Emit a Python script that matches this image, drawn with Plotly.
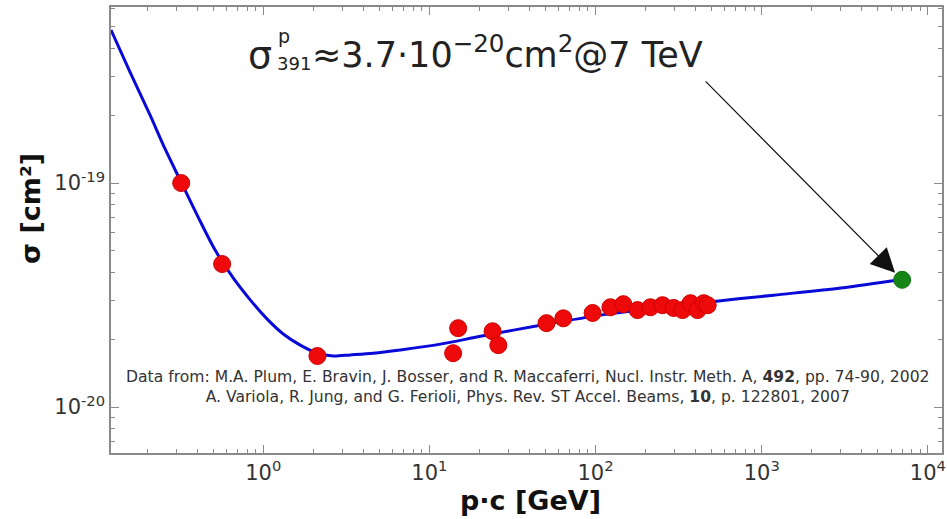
import plotly.graph_objects as go

# ---------------- data ----------------
meas_pc = [0.321, 0.566, 2.12, 13.9, 14.9, 24.0, 26.0, 50.7, 64.0, 96.0,
           123, 147, 179, 214, 253, 295, 334, 373, 411, 448, 473]
meas_sigma = [1.0e-19, 4.35e-20, 1.69e-20, 1.74e-20, 2.25e-20, 2.18e-20, 1.89e-20,
              2.37e-20, 2.49e-20, 2.63e-20,
              2.79e-20, 2.88e-20, 2.71e-20, 2.79e-20, 2.85e-20, 2.77e-20,
              2.71e-20, 2.91e-20, 2.71e-20, 2.91e-20, 2.85e-20]

fit_pc = [0.1214, 0.158, 0.2086, 0.2568, 0.3206, 0.4059, 0.5137, 0.6597, 0.835, 1.057,
          1.32, 1.671, 2.115, 2.641, 3.34, 4.60, 6.69, 11.65, 20.3, 46.6, 118, 473,
          1181, 2990, 7170]
fit_sigma = [4.82e-19, 3.13e-19, 2.01e-19, 1.42e-19, 1.01e-19, 7.05e-20, 5.02e-20, 3.77e-20,
             3.01e-20, 2.47e-20, 2.12e-20, 1.89e-20, 1.74e-20, 1.69e-20, 1.71e-20, 1.74e-20,
             1.80e-20, 1.91e-20, 2.07e-20, 2.32e-20, 2.60e-20, 2.94e-20, 3.16e-20, 3.40e-20,
             3.73e-20]

lhc_pc = [7000]
lhc_sigma = [3.7e-20]

x_tickvals = [1, 10, 100, 1000, 10000]
x_ticktext = ["10<sup>0</sup>", "10<sup>1</sup>", "10<sup>2</sup>", "10<sup>3</sup>", "10<sup>4</sup>"]
y_tickvals = [1e-20, 1e-19]
y_ticktext = ["10<sup>-20</sup>", "10<sup>-19</sup>"]

x_minor = [m * 10.0 ** k for k in range(-1, 4) for m in range(2, 10)]
y_minor = [m * 10.0 ** k for k in (-21, -20, -19) for m in range(2, 10)]

citation = ("Data from: M.A. Plum, E. Bravin, J. Bosser, and R. Maccaferri, Nucl. Instr. Meth. A, "
            "<b>492</b>, pp. 74-90, 2002<br>A. Variola, R. Jung, and G. Ferioli, Phys. Rev. ST Accel. "
            "Beams, <b>10</b>, p. 122801, 2007")

# ---------------- figure ----------------
W, H = 947, 519
L, R, T, B = 111, 5, 7, 66
PW, PH = W - L - R, H - T - B


def px(x):
    return (x - L) / PW


def py(y):
    return (H - B - y) / PH


fig = go.Figure()
fig.add_trace(go.Scatter(x=fit_pc, y=fit_sigma, mode="lines",
                         line=dict(color="#0a0ad8", width=3, shape="spline", smoothing=0.8),
                         hoverinfo="skip", showlegend=False))
fig.add_trace(go.Scatter(x=meas_pc, y=meas_sigma, mode="markers",
                         marker=dict(color="#ee0a0a", size=17, line=dict(color="#d00000", width=1)),
                         showlegend=False))
fig.add_trace(go.Scatter(x=lhc_pc, y=lhc_sigma, mode="markers",
                         marker=dict(color="#158515", size=17, line=dict(color="#0f700f", width=1)),
                         showlegend=False))

axis_common = dict(showline=True, linecolor="#8a8a8a", linewidth=1.5, mirror="allticks",
                   ticks="inside", ticklen=8, tickcolor="#8a8a8a", tickwidth=1,
                   showgrid=False, zeroline=False, tickmode="array",
                   tickfont=dict(family="DejaVu Sans", size=21, color="#333333"))

fig.update_layout(
    width=W, height=H,
    margin=dict(l=L, r=R, t=T, b=B, autoexpand=False),
    paper_bgcolor="white", plot_bgcolor="white",
    xaxis=dict(type="log", range=[-0.916, 4.085], tickvals=x_tickvals, ticktext=x_ticktext,
               minor=dict(tickmode="array", tickvals=x_minor, ticks="inside", ticklen=4,
                          tickcolor="#8a8a8a", showgrid=False),
               **axis_common),
    yaxis=dict(type="log", range=[-20.205, -18.214], tickvals=y_tickvals, ticktext=y_ticktext,
               minor=dict(tickmode="array", tickvals=y_minor, ticks="inside", ticklen=4,
                          tickcolor="#8a8a8a", showgrid=False),
               **axis_common),
)

ann = []
# axis titles
ann.append(dict(text="<b>p·c [GeV]</b>", x=px(530), y=py(500), xref="paper", yref="paper",
                showarrow=False, font=dict(family="DejaVu Sans", size=27, color="#111111"),
                xanchor="center", yanchor="middle"))
ann.append(dict(text="<b>σ [cm²]</b>", x=px(30), y=py(209), xref="paper", yref="paper",
                showarrow=False, textangle=-90,
                font=dict(family="DejaVu Sans", size=27, color="#111111"),
                xanchor="center", yanchor="middle"))
# citation
ann.append(dict(text=citation, x=px(528), y=py(387), xref="paper", yref="paper",
                showarrow=False, align="center",
                font=dict(family="DejaVu Sans", size=15.6, color="#333333"),
                xanchor="center", yanchor="middle"))
# formula
fcol = "#222222"
ann.append(dict(text="σ", x=px(246), y=py(55), xref="paper", yref="paper", showarrow=False,
                font=dict(family="DejaVu Sans", size=38, color=fcol),
                xanchor="left", yanchor="middle"))
ann.append(dict(text="p", x=px(276), y=py(36), xref="paper", yref="paper", showarrow=False,
                font=dict(family="DejaVu Sans", size=19, color=fcol),
                xanchor="left", yanchor="middle"))
ann.append(dict(text="391", x=px(275), y=py(63), xref="paper", yref="paper", showarrow=False,
                font=dict(family="DejaVu Sans", size=18, color=fcol),
                xanchor="left", yanchor="middle"))
ann.append(dict(text="≈3.7·10<sup>−20</sup>cm<sup>2</sup>@7 TeV", x=px(310), y=py(52),
                xref="paper", yref="paper", showarrow=False,
                font=dict(family="DejaVu Sans", size=35, color=fcol),
                xanchor="left", yanchor="middle"))
fig.update_layout(annotations=ann)

# arrow to the 7 TeV point
fig.add_annotation(x=3.845, y=-19.432, xref="x", yref="y", text="", showarrow=True,
                   axref="pixel", ayref="pixel", ax=-198, ay=-200,
                   arrowhead=2, arrowsize=4, arrowwidth=1.2, arrowcolor="#111111",
                   standoff=10)

fig.write_html("out.html", config={"displayModeBar": False},
               post_script="document.body.style.margin='0';document.body.style.padding='0';"
                           "document.documentElement.style.overflow='hidden';")
